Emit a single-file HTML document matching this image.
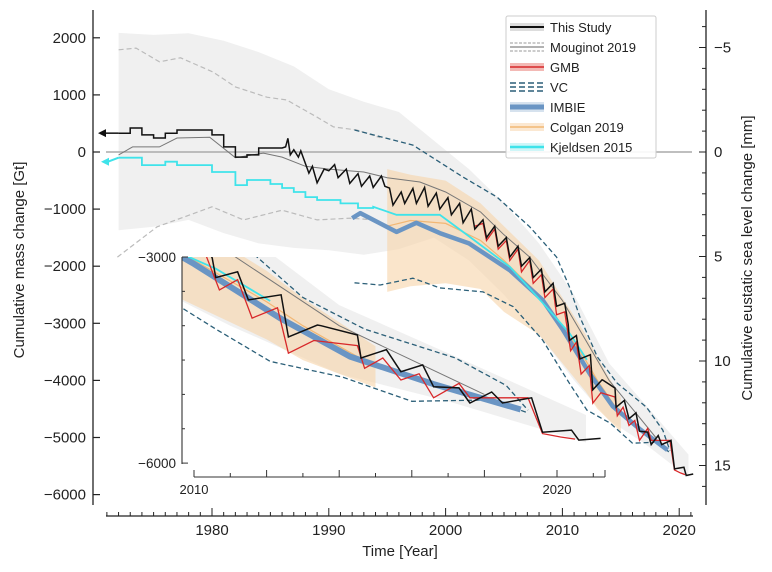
<!DOCTYPE html>
<html><head><meta charset="utf-8"><style>
html,body{margin:0;padding:0;background:#fff;}
svg{display:block;font-family:"Liberation Sans","DejaVu Sans",sans-serif;}
</style></head><body>
<svg id="chart" width="772" height="572" viewBox="0 0 772 572" xmlns="http://www.w3.org/2000/svg">
<defs>
<clipPath id="mainClip"><rect x="93" y="10" width="613" height="495"/></clipPath>
<clipPath id="insetClip"><rect x="182" y="257" width="424" height="207"/></clipPath>
</defs>
<g id="bands" clip-path="url(#mainClip)"></g>
<g id="lines" clip-path="url(#mainClip)"></g>
<g id="inset" clip-path="url(#insetClip)"></g>
<g id="axes"></g>
</svg>
<script>
// ---------- data ----------
const bandYears=[1972,1975,1978,1981,1984,1987,1990,1993,1996,1999,2002,2005,2008,2011,2014,2017,2020.8];
const bandTop=[2085,2050,2080,1950,1750,1500,1100,880,700,200,-300,-900,-1600,-2500,-3700,-4400,-5300];
const bandBottom=[-1370,-1310,-1190,-1420,-1600,-1680,-1720,-1800,-1700,-1500,-1900,-2500,-3200,-4000,-4700,-5100,-5700];
const mougUpYears=[1972,1973.5,1975.5,1977.3,1980.1,1982,1984.7,1986.4,1989,1990.4,1992.4,1994.4];
const mougUpVals=[1790,1820,1580,1650,1400,1140,960,910,610,440,385,250];
const mougLoYears=[1971.9,1975.3,1980,1982.7,1986,1989,1991.8,1994];
const mougLoVals=[-1840,-1310,-960,-1190,-1020,-1190,-1160,-1190];
const colganYears=[1995,1997,2000,2003,2005,2008,2010,2012,2013,2015];
const colganTop=[-300,-400,-500,-900,-1300,-1900,-2550,-3200,-3600,-4300];
const colganBottom=[-2450,-2350,-2300,-2400,-2800,-3200,-3700,-4200,-4500,-4900];
const colganMid=[-1300,-1200,-1250,-1550,-1900,-2500,-3050,-3650,-4000,-4600];
const vcUpYears=[1992.2,1997.2,2001.5,2004.4,2007.2,2009.5,2010.6,2011.5,2013,2014.7,2017.2,2018.6,2019.2];
const vcUpVals=[385,120,-440,-790,-1310,-1840,-2360,-2890,-3590,-4050,-4470,-4870,-5230];
const vcLoYears=[1992.2,1994.4,1997.2,1999.5,2003.2,2005.8,2008.3,2010.6,2012.1,2014.1,2016,2018.2,2019.2];
const vcLoVals=[-2290,-2330,-2210,-2380,-2450,-2710,-3290,-4050,-4520,-4750,-5100,-5080,-5270];
const imbieYears=[1992,1992.7,1995.8,1997.5,1999.5,2002,2005.5,2008.3,2010,2012.4,2014.3,2016.6,2019];
const imbieVals=[-1160,-1070,-1400,-1240,-1420,-1600,-2070,-2590,-3100,-3900,-4450,-4850,-5220];
const kjStepYears=[1972,1974,1976,1977,1980,1982,1983,1985,1986,1987,1988,1989,1991,1992.5];
const kjStepVals=[-100,-230,-170,-230,-350,-580,-490,-560,-630,-700,-790,-840,-900,-980];
const kjYears=[1993.8,1995.8,1999.5,2002.1,2005.5,2008.3,2010.6,2012.1];
const kjVals=[-960,-1100,-1100,-1490,-2010,-2640,-3170,-3640];
const stepYears=[1972,1973,1974,1975,1976,1977,1978,1979,1980,1981,1982,1983,1984,1985];
const stepVals=[330,420,300,245,330,385,385,385,300,90,-90,-50,70,70];
const studyYears=[1986.0,1986.3,1986.5,1986.7,1987.0,1987.4,1987.6,1988.3,1988.6,1989.0,1989.6,1990.0,1990.5,1990.8,1991.5,1991.8,1992.5,1992.8,1993.5,1993.8,1994.5,1994.8,1995.2,1995.5,1996.2,1996.5,1997.2,1997.5,1998.2,1998.5,1999.2,1999.5,2000.2,2000.5,2001.2,2001.5,2002.2,2002.5,2003.2,2003.5,2004.2,2004.5,2005.2,2005.5,2006.2,2006.5,2007.2,2007.5,2008.2,2008.5,2009.2,2009.5,2010.2,2010.5,2010.6,2011.2,2011.5,2012.4,2012.6,2013.4,2013.5,2014.5,2014.6,2015.3,2015.7,2016.3,2016.6,2017.3,2017.6,2018.2,2018.5,2019.3,2019.6,2020.4,2020.6,2021.2];
const studyVals=[70,90,240,-50,40,-90,20,-370,-250,-540,-300,-330,-220,-450,-300,-550,-380,-600,-420,-620,-420,-600,-630,-930,-700,-900,-640,-900,-620,-950,-720,-1000,-800,-1100,-900,-1240,-1000,-1350,-1190,-1500,-1300,-1650,-1500,-1840,-1650,-2000,-1850,-2200,-2050,-2450,-2300,-2700,-2650,-3015,-3300,-3215,-3625,-3550,-4165,-3990,-4000,-4135,-4470,-4350,-4670,-4570,-4890,-4905,-5125,-4965,-5125,-5050,-5550,-5520,-5665,-5640];
const gmbYears=[2002.5,2003.2,2003.5,2004.2,2004.5,2005.2,2005.5,2006.2,2006.5,2007.2,2007.5,2008.2,2008.5,2009.2,2009.5,2010.2,2010.7,2011.2,2011.6,2012.3,2012.6,2013.3,2014.5,2014.7,2015.2,2015.7,2016.2,2016.6,2017.3,2017.6,2018.2,2019.2,2019.6,2020.1,2020.5];
const gmbVals=[-1300,-1250,-1550,-1350,-1700,-1550,-1900,-1700,-2100,-1900,-2300,-2150,-2550,-2400,-2850,-2800,-3480,-3330,-3890,-3740,-4400,-4215,-4290,-4620,-4470,-4790,-4700,-5050,-4840,-5050,-5050,-5050,-5570,-5620,-5650];
const mougYears=[1972,1973.2,1975.5,1977,1979.8,1982,1984.4,1986,1988,1990,1993,1995,1997.8,2000,2003,2005,2007.2,2010,2012,2014,2016,2018];
const mougVals=[-50,90,90,245,260,-100,-20,-90,-250,-300,-350,-450,-525,-700,-1050,-1450,-1840,-2600,-3300,-4000,-4500,-5000];
const yTicks=[2000,1000,0,-1000,-2000,-3000,-4000,-5000,-6000];
const xTicks=[1980,1990,2000,2010,2020];
const slTicks=[-5,0,5,10,15];
// ---------- scales ----------
const X=y=>212+(y-1980)*11.68, Y=v=>152-v*0.0571;
const IX=y=>194+(y-2010)*36.3, IY=v=>257-(v+3000)*0.0687;
const SL=m=>152+m*20.9;
const NS="http://www.w3.org/2000/svg";
function mk(tag,parent,attrs){const e=document.createElementNS(NS,tag);for(const k in attrs)e.setAttribute(k,attrs[k]);parent.appendChild(e);return e;}
function pathD(xs,vs,fx,fy){return xs.map((t,i)=>(i?'L':'M')+fx(t).toFixed(1)+' '+fy(vs[i]).toFixed(1)).join(' ');}
function stepD(xs,vs,fx,fy,end){let d='';xs.forEach((t,i)=>{const t2=i<xs.length-1?xs[i+1]:end;d+=(i?'L':'M')+fx(t).toFixed(1)+' '+fy(vs[i]).toFixed(1)+'L'+fx(t2).toFixed(1)+' '+fy(vs[i]).toFixed(1);});return d;}
function bandD(xs,top,bot,fx,fy){let d=pathD(xs,top,fx,fy);for(let i=xs.length-1;i>=0;i--)d+='L'+fx(xs[i]).toFixed(1)+' '+fy(bot[i]).toFixed(1);return d+'Z';}
const bands=document.getElementById('bands'),lines=document.getElementById('lines'),inset=document.getElementById('inset'),axes=document.getElementById('axes');

function drawAll(g,fx,fy,isInset){
  let e;
  e=mk('path',g,{d:bandD(bandYears,bandTop,bandBottom,fx,fy),fill:'#e6e6e6','fill-opacity':0.6});
  
  e=mk('path',g,{d:bandD(colganYears,colganTop,colganBottom,fx,fy),fill:'#f7d4a8','fill-opacity':0.6});
  
  e=mk('path',g,{d:pathD(colganYears,colganMid,fx,fy),fill:'none',stroke:'#f2b774','stroke-width':1.2});
  
  if(!isInset){
    e=mk('path',g,{d:pathD(mougUpYears,mougUpVals,fx,fy),fill:'none',stroke:'#bbb','stroke-width':1.2,'stroke-dasharray':'5 3'});
    
    e=mk('path',g,{d:pathD(mougLoYears,mougLoVals,fx,fy),fill:'none',stroke:'#bbb','stroke-width':1.2,'stroke-dasharray':'5 3'});
    
    e=mk('line',g,{x1:106,x2:692,y1:fy(0),y2:fy(0),stroke:'#aaa','stroke-width':1.5});
    
  }
  e=mk('path',g,{d:pathD(vcUpYears,vcUpVals,fx,fy),fill:'none',stroke:'#2b5f78','stroke-width':1.3,'stroke-dasharray':'5 3'});
  
  e=mk('path',g,{d:pathD(vcLoYears,vcLoVals,fx,fy),fill:'none',stroke:'#2b5f78','stroke-width':1.3,'stroke-dasharray':'5 3'});
  
  e=mk('path',g,{d:pathD(imbieYears,imbieVals,fx,fy),fill:'none',stroke:'#6a95c4','stroke-width':isInset?6:4.5,'stroke-linejoin':'round'});
  
  e=mk('path',g,{d:stepD(kjStepYears,kjStepVals,fx,fy,1993.8)+' '+pathD(kjYears,kjVals,fx,fy).replace('M','L'),fill:'none',stroke:'#3fe3ea','stroke-width':1.8});
  
  e=mk('path',g,{d:pathD(mougYears,mougVals,fx,fy),fill:'none',stroke:'#777','stroke-width':1});
  
  e=mk('path',g,{d:pathD(gmbYears,gmbVals,fx,fy),fill:'none',stroke:'#d8282a','stroke-width':1.3});
  
  e=mk('path',g,{d:stepD(stepYears,stepVals,fx,fy,1986)+' '+pathD(studyYears,studyVals,fx,fy).replace('M','L'),fill:'none',stroke:'#111','stroke-width':1.5});
  
}
drawAll(bands,X,Y,false);
// arrows
let a=mk('path',lines,{d:'M'+X(1972)+' '+Y(stepVals[0])+'L104 '+Y(stepVals[0]),stroke:'#111','stroke-width':1.5});

a=mk('path',lines,{d:'M98 '+Y(stepVals[0])+' l8 -4 l0 8 z',fill:'#111'});

a=mk('path',lines,{d:'M'+X(1972)+' '+Y(kjStepVals[0])+'L108 '+(Y(kjStepVals[0])+4),stroke:'#3fe3ea','stroke-width':2});

a=mk('path',lines,{d:'M101 '+(Y(kjStepVals[0])+4)+' l8 -4 l0 8 z',fill:'#3fe3ea'});

drawAll(inset,IX,IY,true);

// ---------- axes ----------
function txt(parent,x,y,s,attrs,name){const t=mk('text',parent,Object.assign({x:x,y:y},attrs));t.textContent=s;return t;}
let s=mk('line',axes,{x1:93,x2:93,y1:10,y2:505,stroke:'#222','stroke-width':1.3});

yTicks.forEach(v=>{const t=mk('line',axes,{x1:93,x2:100,y1:Y(v),y2:Y(v),stroke:'#222','stroke-width':1.2});

txt(axes,86,Y(v)+5,v<0?'\u2212'+(-v):String(v),{'text-anchor':'end','font-size':15,fill:'#222'},'y-tick-label');});
txt(axes,0,0,'Cumulative mass change [Gt]',{'font-size':15,fill:'#222','text-anchor':'middle',transform:'translate(24,260) rotate(-90)'},'y-axis-title');
s=mk('line',axes,{x1:706,x2:706,y1:10,y2:505,stroke:'#222','stroke-width':1.3});

for(let m=-6;m<=16;m++){const big=m%5===0;const t=mk('line',axes,{x1:big?699:702,x2:706,y1:SL(m),y2:SL(m),stroke:'#222','stroke-width':1});
}
slTicks.forEach(m=>txt(axes,714,SL(m)+5,m<0?'\u2212'+(-m):String(m),{'font-size':15,fill:'#222'},'sea-level-tick-label'));
txt(axes,0,0,'Cumulative eustatic sea level change [mm]',{'font-size':15,fill:'#222','text-anchor':'middle',transform:'translate(752,258) rotate(-90)'},'right-axis-title');
s=mk('line',axes,{x1:106,x2:693,y1:516,y2:516,stroke:'#222','stroke-width':1.3});

for(let yr=1971;yr<=2021;yr++){const big=yr%10===0;const t=mk('line',axes,{x1:X(yr),x2:X(yr),y1:516,y2:big?508:512,stroke:'#222','stroke-width':1});
}
xTicks.forEach(yr=>txt(axes,X(yr),535,String(yr),{'text-anchor':'middle','font-size':15,fill:'#222'},'x-tick-label'));
txt(axes,400,556,'Time [Year]',{'text-anchor':'middle','font-size':15,fill:'#222'},'x-axis-title');
// inset axes
s=mk('line',axes,{x1:182,x2:182,y1:257,y2:464,stroke:'#333','stroke-width':1.1});

for(let v=-3000;v>=-6000;v-=500){const t=mk('line',axes,{x1:182,x2:(v===-3000||v===-6000)?188:185,y1:IY(v),y2:IY(v),stroke:'#333','stroke-width':1});
}
txt(axes,176,IY(-3000)+5,'\u22123000',{'text-anchor':'end','font-size':13.5,fill:'#222'},'inset-y-label-top');
txt(axes,176,IY(-6000)+5,'\u22126000',{'text-anchor':'end','font-size':13.5,fill:'#222'},'inset-y-label-bottom');
s=mk('line',axes,{x1:194,x2:605,y1:477,y2:477,stroke:'#333','stroke-width':1.1});

for(let yr=2010;yr<=2021;yr++){const big=yr%2===0;const t=mk('line',axes,{x1:IX(yr),x2:IX(yr),y1:477,y2:big?470:473,stroke:'#333','stroke-width':1});
}
s=mk('line',axes,{x1:605,x2:605,y1:477,y2:470,stroke:'#333'});
txt(axes,IX(2010),494,'2010',{'text-anchor':'middle','font-size':13,fill:'#222'},'inset-x-label-2010');
txt(axes,IX(2020),494,'2020',{'text-anchor':'middle','font-size':13,fill:'#222'},'inset-x-label-2020');

// ---------- legend ----------
const lg=mk('g',axes,{});
let r=mk('rect',lg,{x:506,y:16,width:150,height:142,fill:'#fff','fill-opacity':0.9,stroke:'#ccc',rx:2});

const legNames=['This Study','Mouginot 2019','GMB','VC','IMBIE','Colgan 2019','Kjeldsen 2015'];
legNames.forEach((n,i)=>{const y=27+i*20;const g=mk('g',lg,{});

if(i===0){mk('rect',g,{x:510,y:y-4,width:34,height:8,fill:'#ddd'});mk('line',g,{x1:510,x2:544,y1:y,y2:y,stroke:'#111','stroke-width':2});}
if(i===1){mk('line',g,{x1:510,x2:544,y1:y-4,y2:y-4,stroke:'#999','stroke-dasharray':'3 1.5'});mk('line',g,{x1:510,x2:544,y1:y,y2:y,stroke:'#666'});mk('line',g,{x1:510,x2:544,y1:y+4,y2:y+4,stroke:'#999','stroke-dasharray':'3 1.5'});}
if(i===2){mk('rect',g,{x:510,y:y-4,width:34,height:8,fill:'#f3b9b5'});mk('line',g,{x1:510,x2:544,y1:y,y2:y,stroke:'#d8282a','stroke-width':1.5});}
if(i===3){[-4,0,4].forEach(o=>mk('line',g,{x1:510,x2:544,y1:y+o,y2:y+o,stroke:'#2b5f78','stroke-width':1.5,'stroke-dasharray':'6 3'}));}
if(i===4){mk('rect',g,{x:510,y:y-5,width:34,height:10,fill:'#d6e2ee'});mk('line',g,{x1:510,x2:544,y1:y,y2:y,stroke:'#6a95c4','stroke-width':5});}
if(i===5){mk('rect',g,{x:510,y:y-4,width:34,height:8,fill:'#fbe8d2'});mk('line',g,{x1:510,x2:544,y1:y,y2:y,stroke:'#f2b774','stroke-width':1.5});}
if(i===6){mk('rect',g,{x:510,y:y-4,width:34,height:8,fill:'#cff6f8'});mk('line',g,{x1:510,x2:544,y1:y,y2:y,stroke:'#3fe3ea','stroke-width':2.5});}
txt(g,550,y+5,n,{'font-size':13,fill:'#222'},'legend-label');});
</script>
</body></html>
